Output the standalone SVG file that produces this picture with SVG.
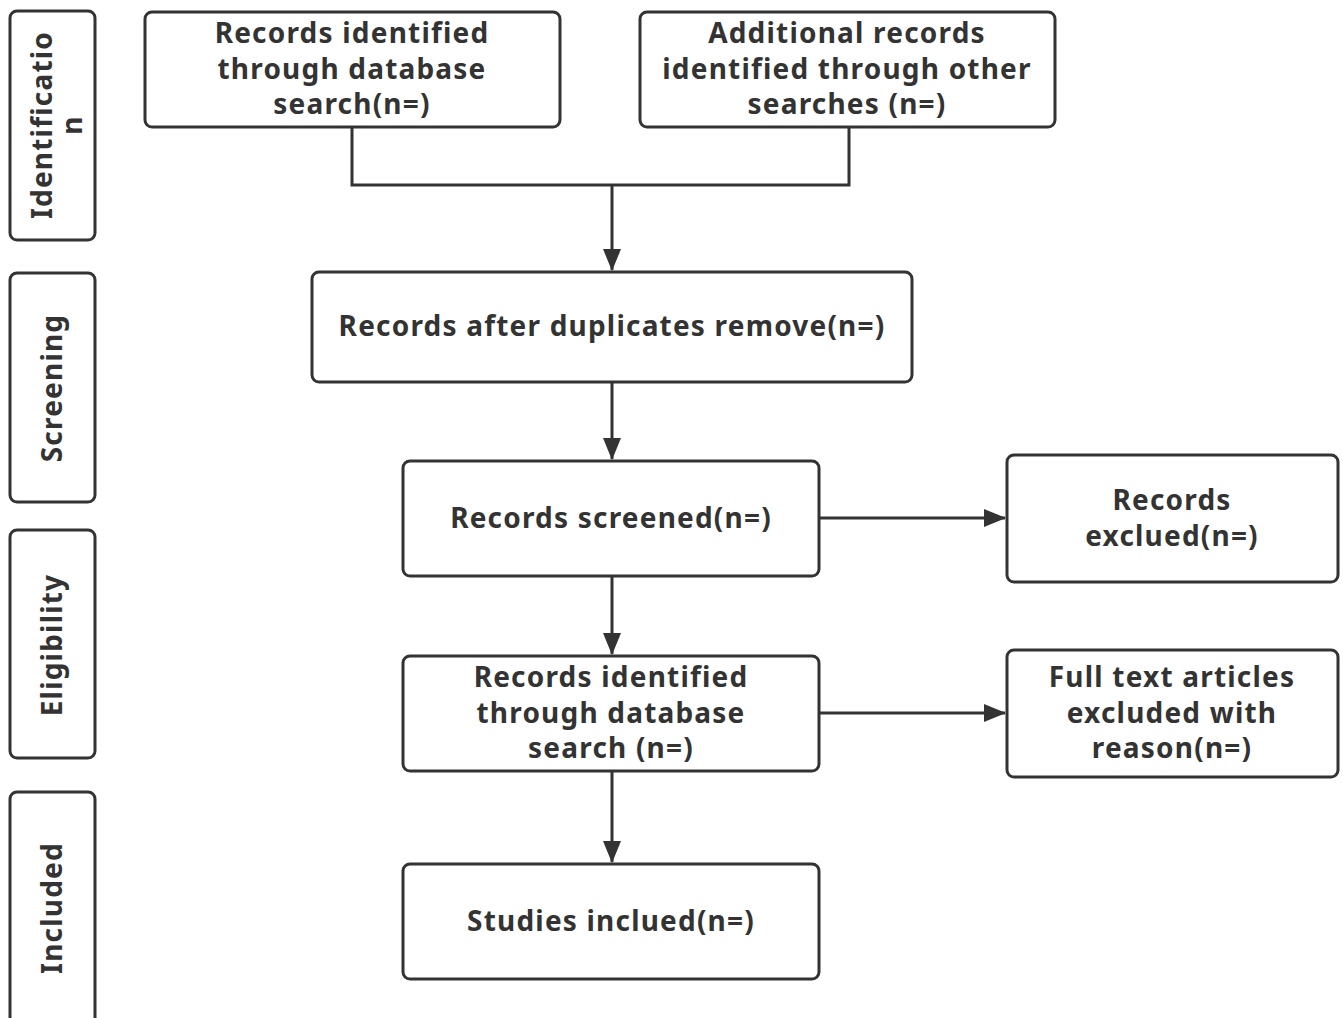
<svg xmlns="http://www.w3.org/2000/svg" width="1343" height="1018" viewBox="0 0 1343 1018">
<style>
.box{fill:#fff;stroke:#333;stroke-width:3}
.t{font-family:"Noto Sans","Open Sans","DejaVu Sans",sans-serif;font-weight:bold;font-size:28px;letter-spacing:1.2px;fill:#333;text-anchor:middle}
.c{fill:none;stroke:#333;stroke-width:3}
</style>
<defs>
<marker id="ah" markerWidth="22" markerHeight="18" refX="21" refY="9" orient="auto" markerUnits="userSpaceOnUse" viewBox="0 0 22 18">
<path d="M0,0 L22,9 L0,18 Z" fill="#333"/>
</marker>
</defs>
<rect width="1343" height="1018" fill="#fff"/>
<g id="phase-identification"><rect class="box" x="10" y="11" width="85" height="229" rx="7"/>
<text class="t" transform="translate(52,125) rotate(-90)"><tspan x="0" y="0">Identificatio</tspan><tspan x="0" y="30">n</tspan></text></g>
<g id="phase-screening"><rect class="box" x="10" y="273" width="85" height="229" rx="7"/>
<text class="t" transform="translate(62,388) rotate(-90)">Screening</text></g>
<g id="phase-eligibility"><rect class="box" x="10" y="530" width="85" height="228" rx="7"/>
<text class="t" transform="translate(62,645) rotate(-90)">Eligibility</text></g>
<g id="phase-included"><rect class="box" x="10" y="792" width="85" height="240" rx="7"/>
<text class="t" transform="translate(62,908) rotate(-90)">Included</text></g>

<g id="connectors">
<path class="c" d="M352,127 V185 H849 V127"/>
<path class="c" d="M612,185 V270" marker-end="url(#ah)"/>
<path class="c" d="M612,382 V459" marker-end="url(#ah)"/>
<path class="c" d="M819,518 H1005" marker-end="url(#ah)"/>
<path class="c" d="M612,576 V654" marker-end="url(#ah)"/>
<path class="c" d="M819,713 H1005" marker-end="url(#ah)"/>
<path class="c" d="M612,771 V862" marker-end="url(#ah)"/>
</g>

<g id="db-search"><rect class="box" x="145" y="12" width="415" height="115" rx="7"/>
<text class="t"><tspan x="352" y="43">Records identified</tspan><tspan x="352" y="79">through database</tspan><tspan x="352" y="114">search(n=)</tspan></text></g>
<g id="other-search"><rect class="box" x="640" y="12" width="415" height="115" rx="7"/>
<text class="t"><tspan x="847" y="43">Additional records</tspan><tspan x="847" y="79">identified through other</tspan><tspan x="847" y="114">searches (n=)</tspan></text></g>
<g id="dedup"><rect class="box" x="312" y="272" width="600" height="110" rx="7"/>
<text class="t" x="612" y="336">Records after duplicates remove(n=)</text></g>
<g id="screened"><rect class="box" x="403" y="461" width="416" height="115" rx="7"/>
<text class="t" x="611" y="528">Records screened(n=)</text></g>
<g id="excluded"><rect class="box" x="1007" y="455" width="331" height="127" rx="7"/>
<text class="t"><tspan x="1172" y="510">Records</tspan><tspan x="1172" y="546">exclued(n=)</tspan></text></g>
<g id="fulltext"><rect class="box" x="403" y="656" width="416" height="115" rx="7"/>
<text class="t"><tspan x="611" y="687">Records identified</tspan><tspan x="611" y="723">through database</tspan><tspan x="611" y="758">search (n=)</tspan></text></g>
<g id="fulltext-excluded"><rect class="box" x="1007" y="650" width="331" height="127" rx="7"/>
<text class="t"><tspan x="1172" y="687">Full text articles</tspan><tspan x="1172" y="723">excluded with</tspan><tspan x="1172" y="758">reason(n=)</tspan></text></g>
<g id="included"><rect class="box" x="403" y="864" width="416" height="115" rx="7"/>
<text class="t" x="611" y="931">Studies inclued(n=)</text></g>
</svg>
